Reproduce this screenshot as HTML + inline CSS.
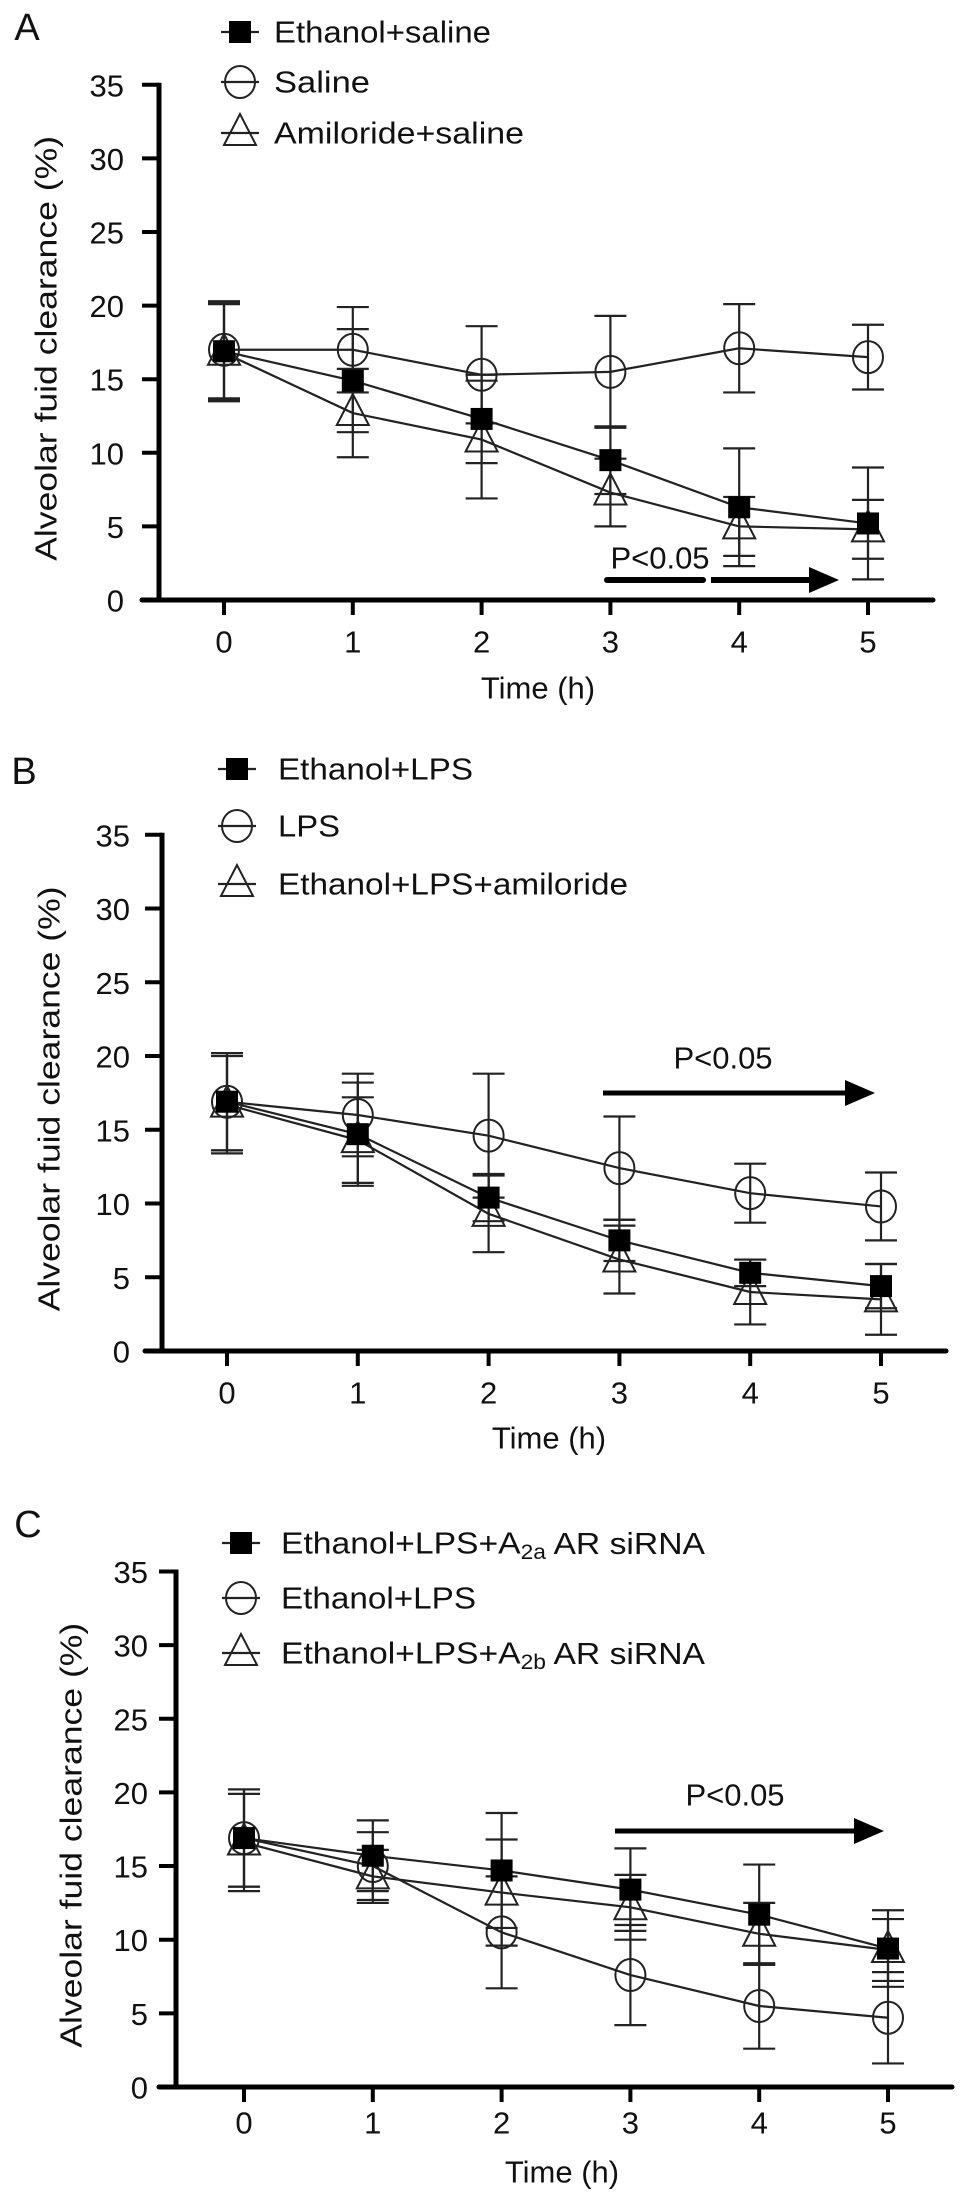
<!DOCTYPE html>
<html><head><meta charset="utf-8"><style>
html,body{margin:0;padding:0;background:#fff;}
svg{display:block;font-family:"Liberation Sans",Arial,sans-serif;}
</style></head><body>
<svg id="fig" width="969" height="2212" viewBox="0 0 969 2212" xmlns="http://www.w3.org/2000/svg"></svg>
<script>
const times = [0,1,2,3,4,5];
const yTicks = [0,5,10,15,20,25,30,35];
// Panel A
const aSquare = [16.9,14.9,12.3,9.5,6.3,5.2];
const aSquareErr = [3.3,3.5,3.0,2.3,4.0,3.8];
const aCircle = [17.0,17.0,15.3,15.5,17.1,16.5];
const aCircleErr = [3.3,2.9,3.3,3.8,3.0,2.2];
const aTri = [16.8,12.7,10.9,7.3,5.0,4.8];
const aTriErr = [3.3,3.0,4.0,2.3,2.0,2.0];
// Panel B
const bSquare = [16.9,14.7,10.4,7.5,5.3,4.4];
const bSquareErr = [3.3,3.5,1.6,1.4,0.9,1.5];
const bCircle = [16.9,16.0,14.6,12.4,10.7,9.8];
const bCircleErr = [3.3,2.8,4.2,3.5,2.0,2.3];
const bTri = [16.7,14.3,9.3,6.2,4.0,3.5];
const bTriErr = [3.3,2.9,2.6,2.3,2.2,2.4];
// Panel C
const cSquare = [16.9,15.7,14.7,13.4,11.7,9.4];
const cSquareErr = [3.3,2.4,3.9,2.8,3.4,2.6];
const cCircle = [16.9,15.0,10.5,7.6,5.5,4.7];
const cCircleErr = [3.3,2.3,3.8,3.4,2.9,3.1];
const cTri = [16.6,14.3,13.2,12.2,10.4,9.3];
const cTriErr = [3.3,1.8,3.6,2.2,2.1,2.1];

const svg = document.getElementById('fig');
const NS = 'http://www.w3.org/2000/svg';
function mk(tag, attrs, parent){
  const e = document.createElementNS(NS, tag);
  for (const k in attrs) e.setAttribute(k, attrs[k]);
  (parent||svg).appendChild(e);
  return e;
}
function txt(s, x, y, size, anchor, parent){
  const t = mk('text', {x:x, y:y, 'font-size':size, 'text-anchor':anchor||'start', 'dominant-baseline':'central', fill:'#111'}, parent);
  t.textContent = s;
  return t;
}
function marker(kind, cx, cy, g){
  let m;
  if (kind==='square'){
    m = mk('rect', {x:cx-11, y:cy-11, width:22, height:22, fill:'#000'}, g);
  } else if (kind==='circle'){
    m = mk('ellipse', {cx:cx, cy:cy, rx:15, ry:16, fill:'none', stroke:'#222', 'stroke-width':2}, g);
  } else {
    m = mk('polygon', {points:(cx)+','+(cy-19)+' '+(cx-16)+','+(cy+12)+' '+(cx+16)+','+(cy+12), fill:'none', stroke:'#222', 'stroke-width':2}, g);
  }
  return m;
}

const panels = [
  {id:'a', letter:'A', letterX:27, letterY:28, axisX:159, y0:600, unit:14.72, x0:224, dx:128.8, axEnd:933,
   tickLblRight:124, ylabX:46, tickLblY:642, timeX:538, timeY:688,
   legX:240, legTX:274, legY:[32,82,133],
   legends:[['square','Ethanol+saline'],['circle','Saline'],['triangle','Amiloride+saline']], legW:[217,96,250],
   series:[['circle',aCircle,aCircleErr],['triangle',aTri,aTriErr],['square',aSquare,aSquareErr]],
   p:{tx:660, ty:558, ay:580, split:true, x1:607, x2:839}},
  {id:'b', letter:'B', letterX:24, letterY:772, axisX:162, y0:1351, unit:14.75, x0:227, dx:130.8, axEnd:946,
   tickLblRight:130, ylabX:49, tickLblY:1393, timeX:549, timeY:1438,
   legX:237, legTX:278, legY:[769,826,884],
   legends:[['square','Ethanol+LPS'],['circle','LPS'],['triangle','Ethanol+LPS+amiloride']], legW:[195,62,350],
   series:[['circle',bCircle,bCircleErr],['triangle',bTri,bTriErr],['square',bSquare,bSquareErr]],
   p:{tx:723, ty:1058, ay:1093, split:false, x1:603, x2:875}},
  {id:'c', letter:'C', letterX:28, letterY:1525, axisX:176, y0:2087, unit:14.73, x0:244, dx:128.8, axEnd:952,
   tickLblRight:148, ylabX:71, tickLblY:2123, timeX:562, timeY:2172,
   legX:241, legTX:281, legY:[1543,1598,1653],
   legends:[['square','Ethanol+LPS+A','2a',' AR siRNA'],['circle','Ethanol+LPS'],['triangle','Ethanol+LPS+A','2b',' AR siRNA']], legW:[424,195,424],
   series:[['circle',cCircle,cCircleErr],['triangle',cTri,cTriErr],['square',cSquare,cSquareErr]],
   p:{tx:735, ty:1795, ay:1831, split:false, x1:615, x2:884}}
];

panels.forEach(P=>{
  const g = mk('g', {});
  
  
  const X = t => P.x0 + t*P.dx;
  const Y = v => P.y0 - v*P.unit;
  const yTop = Y(35);

  const lt = txt(P.letter, P.letterX, P.letterY, 38, 'middle', g);
  
  

  const ya = mk('line', {x1:P.axisX, y1:yTop-2, x2:P.axisX, y2:P.y0, stroke:'#000', 'stroke-width':5}, g);
  
  
  const xa = mk('line', {x1:P.axisX-17, y1:P.y0, x2:P.axEnd, y2:P.y0, stroke:'#000', 'stroke-width':5, 'stroke-linecap':'round'}, g);
  
  

  yTicks.forEach(v=>{
    const tk = mk('line', {x1:P.axisX-17, y1:Y(v), x2:P.axisX, y2:Y(v), stroke:'#000', 'stroke-width':4}, g);
    
    
    const tl = txt(String(v), P.tickLblRight, Y(v)+1, 31, 'end', g);
    
    
  });
  times.forEach(t=>{
    const tk = mk('line', {x1:X(t), y1:P.y0, x2:X(t), y2:P.y0+15, stroke:'#000', 'stroke-width':4}, g);
    
    
    const tl = txt(String(t), X(t), P.tickLblY, 31, 'middle', g);
    
    
  });
  const xt = txt('Time (h)', P.timeX, P.timeY, 31, 'middle', g);
  
  
  const ymid = (yTop + P.y0)/2 + 6;
  const yt = txt('Alveolar fuid clearance (%)', P.ylabX, ymid, 31, 'middle', g);
  yt.setAttribute('textLength', 425);
  yt.setAttribute('lengthAdjust', 'spacingAndGlyphs');
  yt.setAttribute('transform', 'rotate(-90 '+P.ylabX+' '+ymid+')');
  
  

  P.series.forEach(([kind, vals, errs])=>{
    const sg = mk('g', {}, g);
    
    
    let d = '';
    vals.forEach((v,i)=>{ d += (i?'L':'M') + X(times[i]) + ',' + Y(v); });
    const ln = mk('path', {d:d, fill:'none', stroke:'#222', 'stroke-width':2.2}, sg);
    
    
    vals.forEach((v,i)=>{
      const x = X(times[i]);
      const eb = mk('path', {d:'M'+x+','+Y(v+errs[i])+'L'+x+','+Y(v-errs[i])+'M'+(x-16)+','+Y(v+errs[i])+'L'+(x+16)+','+Y(v+errs[i])+'M'+(x-16)+','+Y(v-errs[i])+'L'+(x+16)+','+Y(v-errs[i]), fill:'none', stroke:'#222', 'stroke-width':2.2}, sg);
      
      
      const m = marker(kind, x, Y(v), sg);
      
      
    });
  });

  P.legends.forEach((L,i)=>{
    const lg = mk('g', {}, g);
    
    
    const y = P.legY[i];
    mk('line', {x1:P.legX-19, y1:y, x2:P.legX+19, y2:y, stroke:'#222', 'stroke-width':2.2}, lg);
    marker(L[0], P.legX, y, lg);
    const t = txt(L[1], P.legTX, y, 31, 'start', lg);
    if (L.length>2){
      const s1 = document.createElementNS(NS,'tspan');
      s1.setAttribute('font-size','21'); s1.setAttribute('dy','9');
      s1.textContent = L[2]; t.appendChild(s1);
      const s2 = document.createElementNS(NS,'tspan');
      s2.setAttribute('dy','-9');
      s2.textContent = L[3]; t.appendChild(s2);
    }
    if (P.legW[i]) {
      t.setAttribute('textLength', P.legW[i]);
      t.setAttribute('lengthAdjust', 'spacingAndGlyphs');
    }
  });

  const pg = mk('g', {}, g);
  
  
  txt('P<0.05', P.p.tx, P.p.ty, 31, 'middle', pg);
  const p = P.p;
  if (p.split){
    mk('line', {x1:p.x1, y1:p.ay, x2:703, y2:p.ay, stroke:'#000', 'stroke-width':6, 'stroke-linecap':'round'}, pg);
    mk('line', {x1:711, y1:p.ay, x2:p.x2-25, y2:p.ay, stroke:'#000', 'stroke-width':6}, pg);
  } else {
    mk('line', {x1:p.x1, y1:p.ay, x2:p.x2-25, y2:p.ay, stroke:'#000', 'stroke-width':5}, pg);
  }
  mk('polygon', {points:(p.x2-30)+','+(p.ay-13)+' '+p.x2+','+p.ay+' '+(p.x2-30)+','+(p.ay+13), fill:'#000'}, pg);
});
</script>
</body></html>
